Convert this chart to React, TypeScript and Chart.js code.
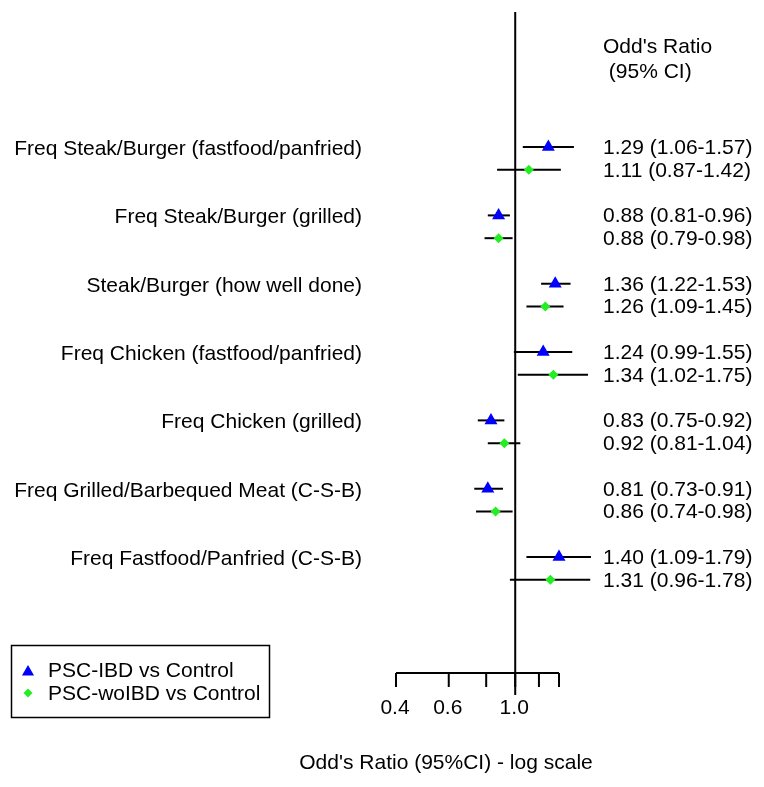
import React, { useEffect, useRef } from 'react';
import { Chart, registerables } from 'chart.js';

Chart.register(...registerables);

const categories = [
  'Freq Steak/Burger (fastfood/panfried)',
  'Freq Steak/Burger (grilled)',
  'Steak/Burger (how well done)',
  'Freq Chicken (fastfood/panfried)',
  'Freq Chicken (grilled)',
  'Freq Grilled/Barbequed Meat (C-S-B)',
  'Freq Fastfood/Panfried (C-S-B)',
];

const ibdOR = [1.29, 0.88, 1.36, 1.24, 0.83, 0.81, 1.4];
const ibdLow = [1.06, 0.81, 1.22, 0.99, 0.75, 0.73, 1.09];
const ibdHigh = [1.57, 0.96, 1.53, 1.55, 0.92, 0.91, 1.79];

const woOR = [1.11, 0.88, 1.26, 1.34, 0.92, 0.86, 1.31];
const woLow = [0.87, 0.79, 1.09, 1.02, 0.81, 0.74, 0.96];
const woHigh = [1.42, 0.98, 1.45, 1.75, 1.04, 0.98, 1.78];

const tickValues = [0.4, 0.6, 0.8, 1.0, 1.2, 1.4];
const tickLabels = ['0.4', '0.6', '', '1.0', '', ''];

const seriesNames = ['PSC-IBD vs Control', 'PSC-woIBD vs Control'];
const headerLines = ["Odd's Ratio", ' (95% CI)'];
const xTitle = "Odd's Ratio (95%CI) - log scale";

const BLUE = '#0000ff';
const GREEN = '#22ee22';
const FONT = '21px "Liberation Sans", Arial, Helvetica, sans-serif';

const fmt = (v: number) => v.toFixed(2);

export default function App() {
  const ref = useRef<HTMLCanvasElement>(null);

  useEffect(() => {
    if (!ref.current) return;

    const ibdPts = ibdOR.map((v, i) => ({ x: v, y: i * 3 }));
    const woPts = woOR.map((v, i) => ({ x: v, y: i * 3 + 1 }));

    const forestPlugin = {
      id: 'forest',
      beforeDatasetsDraw(chart: any) {
        const { ctx, scales, chartArea } = chart;
        const x = scales.x;
        const y = scales.y;
        ctx.save();
        ctx.strokeStyle = '#000';
        ctx.fillStyle = '#000';
        ctx.lineWidth = 2;
        ctx.lineCap = 'butt';

        // reference line at OR = 1
        const x1 = x.getPixelForValue(1);
        ctx.beginPath();
        ctx.moveTo(x1, chartArea.top);
        ctx.lineTo(x1, chartArea.bottom + 22);
        ctx.stroke();

        // confidence intervals
        const ci = (lo: number, hi: number, yv: number) => {
          const py = y.getPixelForValue(yv);
          ctx.beginPath();
          ctx.moveTo(x.getPixelForValue(lo), py);
          ctx.lineTo(x.getPixelForValue(hi), py);
          ctx.stroke();
        };
        categories.forEach((_, i) => {
          ci(ibdLow[i], ibdHigh[i], i * 3);
          ci(woLow[i], woHigh[i], i * 3 + 1);
        });

        // x axis
        const axY = chartArea.bottom;
        ctx.beginPath();
        ctx.moveTo(x.getPixelForValue(tickValues[0]), axY);
        ctx.lineTo(x.getPixelForValue(tickValues[tickValues.length - 1]), axY);
        ctx.stroke();
        ctx.font = FONT;
        ctx.textAlign = 'center';
        ctx.textBaseline = 'middle';
        tickValues.forEach((t, i) => {
          const px = x.getPixelForValue(t);
          ctx.beginPath();
          ctx.moveTo(px, axY);
          ctx.lineTo(px, axY + 14);
          ctx.stroke();
          if (tickLabels[i]) ctx.fillText(tickLabels[i], px - 1, axY + 35);
        });

        // axis title
        ctx.fillText(xTitle, 446, 763);

        // category labels
        ctx.textAlign = 'right';
        categories.forEach((c, i) => {
          ctx.fillText(c, 362, y.getPixelForValue(i * 3) + 2);
        });

        // OR text column
        ctx.textAlign = 'left';
        categories.forEach((_, i) => {
          ctx.fillText(
            `${fmt(ibdOR[i])} (${fmt(ibdLow[i])}-${fmt(ibdHigh[i])})`,
            603,
            y.getPixelForValue(i * 3) + 1
          );
          ctx.fillText(
            `${fmt(woOR[i])} (${fmt(woLow[i])}-${fmt(woHigh[i])})`,
            603,
            y.getPixelForValue(i * 3 + 1) + 1
          );
        });
        ctx.fillText(headerLines[0], 603, 47);
        ctx.fillText(headerLines[1], 603, 72);

        // legend
        ctx.lineWidth = 1.5;
        ctx.strokeRect(11.5, 645.5, 258, 72);
        ctx.fillStyle = BLUE;
        ctx.beginPath();
        const r = 7;
        ctx.moveTo(28, 672 - r);
        ctx.lineTo(28 + r * 0.866, 672 + r * 0.5);
        ctx.lineTo(28 - r * 0.866, 672 + r * 0.5);
        ctx.closePath();
        ctx.fill();
        ctx.fillStyle = GREEN;
        ctx.beginPath();
        const d = 4.5;
        ctx.moveTo(28, 693 - d);
        ctx.lineTo(28 + d, 693);
        ctx.lineTo(28, 693 + d);
        ctx.lineTo(28 - d, 693);
        ctx.closePath();
        ctx.fill();
        ctx.fillStyle = '#000';
        ctx.fillText(seriesNames[0], 48, 671);
        ctx.fillText(seriesNames[1], 48, 694);

        ctx.restore();
      },
    };

    const chart = new Chart(ref.current, {
      type: 'scatter',
      data: {
        datasets: [
          {
            label: seriesNames[0],
            data: ibdPts,
            pointStyle: 'triangle',
            pointRadius: 7.5,
            backgroundColor: BLUE,
            borderColor: BLUE,
            borderWidth: 0,
            clip: false,
          },
          {
            label: seriesNames[1],
            data: woPts,
            pointStyle: 'rectRot',
            pointRadius: 5,
            backgroundColor: GREEN,
            borderColor: GREEN,
            borderWidth: 0,
            clip: false,
          },
        ],
      },
      options: {
        responsive: false,
        animation: false,
        devicePixelRatio: 1,
        layout: { padding: { left: 396, right: 764 - 559, top: 12, bottom: 787 - 673 } },
        plugins: { legend: { display: false }, tooltip: { enabled: false } },
        scales: {
          x: { type: 'logarithmic', min: 0.4, max: 1.4, display: false },
          y: { type: 'linear', min: -5.93, max: 23.09, reverse: true, display: false },
        },
      },
      plugins: [forestPlugin],
    } as any);

    return () => chart.destroy();
  }, []);

  return (
    <div style={{ position: 'absolute', left: 0, top: 0, width: 764, height: 787, background: '#fff' }}>
      <canvas ref={ref} width={764} height={787} style={{ display: 'block' }} />
    </div>
  );
}
